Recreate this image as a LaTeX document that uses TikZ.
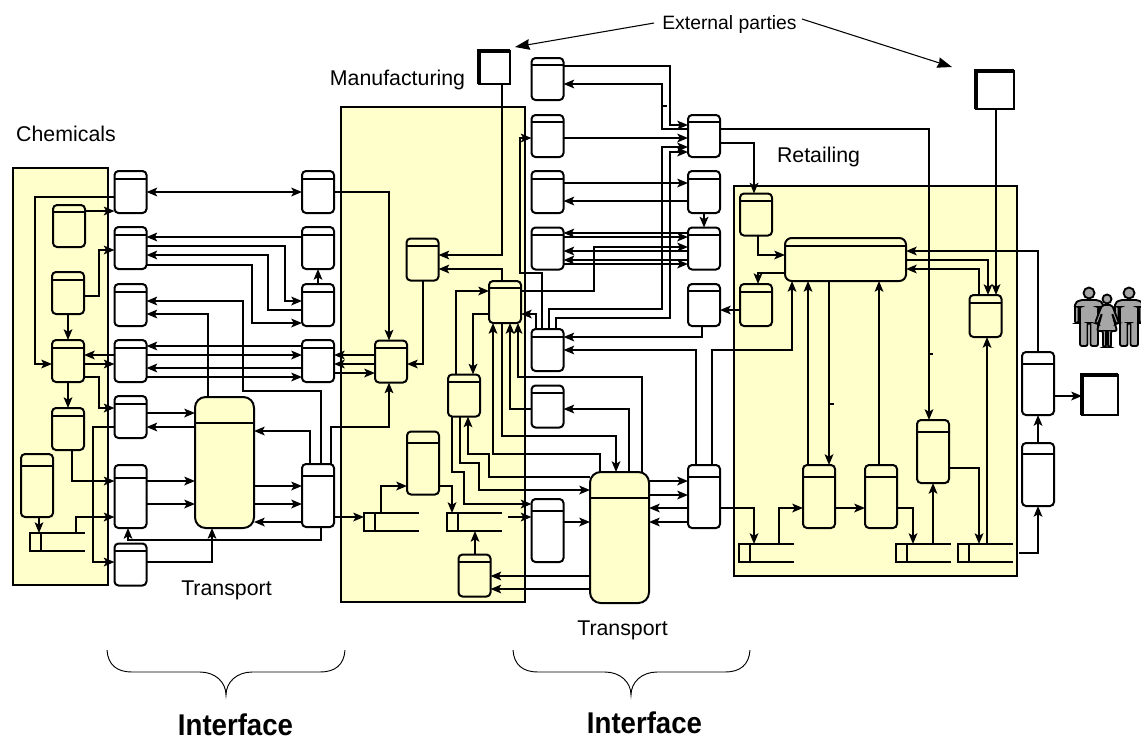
\documentclass[tikz,border=0pt]{standalone}
\usepackage{fontspec}
\setmainfont{Liberation Sans}
\usetikzlibrary{arrows.meta,calc}

\definecolor{areayellow}{HTML}{FFFFCC}
\definecolor{persongray}{HTML}{A6A6A6}

\tikzset{
  flow/.style={line width=1.4pt},
  area/.style={draw, line width=1.2pt, fill=areayellow, inner sep=0pt, outer sep=0pt},
  procbox/.style={draw, line width=1.5pt, rounded corners=3pt, inner sep=0pt, outer sep=0pt,
    minimum width=24pt, minimum height=31.5pt},
  procwhite/.style={procbox, fill=white},
  procyellow/.style={procbox, fill=areayellow},
  tallbox/.style={minimum height=47.25pt},
  transportbox/.style={procyellow, rounded corners=8pt, minimum width=44.25pt, minimum height=98.25pt},
  widebox/.style={procyellow, rounded corners=5pt, minimum width=90.75pt, minimum height=32.25pt},
  storebox/.style={draw, line width=1.4pt, inner sep=0pt, outer sep=0pt, minimum width=8.25pt, minimum height=13.5pt},
  partybox/.style={draw, fill=white, line width=1.2pt, inner sep=0pt, outer sep=0pt},
  lbl/.style={inner sep=0pt, font=\fontsize{16}{18}\selectfont},
  biglbl/.style={inner sep=0pt, font=\fontsize{22.5}{25}\selectfont\bfseries},
  pointer/.style={line width=.8pt, -{Stealth[length=11pt,width=8pt,inset=1pt]}},
  brace/.style={line width=.7pt, rounded corners=0pt},
  person/.style={draw, fill=persongray, line width=1.4pt, rounded corners=1.5pt},
  manicon/.pic={
    \draw[person] (0,0) circle (5.5);
    \draw[person] (-9,7) -- (9,7) -- (14,10) -- (14,30) -- (10.5,30) -- (10.5,14) -- (9,14) -- (9,53)
      -- (1.5,53) -- (1.5,30) -- (-1.5,30) -- (-1.5,53) -- (-9,53) -- (-9,14) -- (-10.5,14)
      -- (-10.5,30) -- (-14,30) -- (-14,10) -- cycle;
  },
  womanicon/.pic={
    \draw[person] (0,0) circle (4.5);
    \draw[person] (-5,6) -- (5,6) -- (12,24) -- (9,25) -- (5,14) -- (10,32) -- (4,32) -- (4,48) -- (1,48)
      -- (1,32) -- (-1,32) -- (-1,48) -- (-4,48) -- (-4,32) -- (-10,32) -- (-5,14) -- (-9,25) -- (-12,24) -- cycle;
  }
}

% a process box with its header line
\newcommand{\procnode}[4][procwhite]{%
  \node[#1] (#2) at (#3) {};
  \draw[flow] ([xshift=-.7pt]#2.west|-0,#4) -- ([xshift=.7pt]#2.east|-0,#4);
}
% an open data store
\newcommand{\storenode}[2]{%
  \node[storebox] (#1) at (#2) {};
  \draw[flow] (#1.north west) -- ++(55,0);
  \draw[flow] (#1.south west) -- ++(55,0);
  \coordinate (#1end) at ($(#1.east)+(50,0)$);
}

\begin{document}
\begin{tikzpicture}[x=.75pt, y=-.75pt, >={Stealth[length=8pt,width=6.5pt,inset=1.8pt]}]
  \useasboundingbox (0,0) rectangle (1141,740);

  % 1. Yellow areas
  \fill[white] (0,0) rectangle (1141,740);
  \draw[area] (13,168) rectangle (108,585);
  \draw[area] (341,107) rectangle (525,602);
  \draw[area] (734,186) rectangle (1017,576);

  % 2. Texts
  \node[lbl, font=\fontsize{14.5}{17}\selectfont] (extlabel) at (729.5,24) {External parties};
  \node[lbl] (mfglabel) at (397.5,80) {Manufacturing};
  \node[lbl] (chemlabel) at (66,134) {Chemicals};
  \node[lbl] (retlabel) at (818.5,157) {Retailing};
  \node[lbl] (translabela) at (226.5,590) {Transport};
  \node[lbl] (translabelb) at (622.5,630) {Transport};
  \node[biglbl] (ifacea) at (235.5,725) {\scalebox{.92}[1]{Interface}};
  \node[biglbl] (ifaceb) at (644.5,723) {\scalebox{.92}[1]{Interface}};

  % 3. Chemicals boxes
  \procnode[procyellow]{C1}{69,226}{212}
  \procnode[procyellow]{C2}{68,293}{280}
  \procnode[procyellow]{C3}{68,361}{348}
  \procnode[procyellow]{C4}{68,429}{416}
  \procnode[procyellow,tallbox]{C5}{37,485.5}{466}
  \storenode{S1}{35.5,542}

  % 4. First interface boxes
  \procnode{A1}{130.5,192}{179}
  \procnode{A2}{130.5,248}{235}
  \procnode{A3}{130.5,305}{292}
  \procnode{A4}{130.5,361}{348}
  \procnode{A5}{130.5,417}{404}
  \procnode[procwhite,tallbox]{A6}{130.5,496.5}{478}
  \procnode{A7}{130.5,564.5}{551}
  \procnode{B1}{318,192}{179}
  \procnode{B2}{318,248}{235}
  \procnode{B3}{318,305}{292}
  \procnode{B4}{318,361}{348}
  \procnode[procwhite,tallbox]{B5}{318,495.5}{476}
  \procnode[transportbox]{T1}{224.5,462.5}{423}

  % 5. Manufacturing boxes
  \procnode[procyellow]{M1}{422.5,259.5}{246}
  \procnode[procyellow]{M2}{391,361.5}{348}
  \procnode[procyellow]{M3}{505,302}{288}
  \procnode[procyellow]{M4}{464,395.5}{382}
  \procnode[procyellow,tallbox]{M5}{423,463}{443}
  \procnode[procyellow]{M6}{474.5,575.5}{562}
  \storenode{S2}{369.5,522}
  \storenode{S3}{452.5,522}

  % 6. Second interface boxes
  \procnode{D1}{547.5,79}{65}
  \procnode{D2}{547.5,136}{122}
  \procnode{D3}{547.5,192}{179}
  \procnode{D4}{547.5,248.5}{235}
  \procnode{D5}{547.5,350}{337}
  \procnode{D6}{547.5,406.5}{393}
  \procnode[procwhite,tallbox]{D7}{547.5,530.5}{511}
  \procnode{E1}{704,136}{122}
  \procnode{E2}{704,192}{179}
  \procnode{E3}{704,248.5}{235}
  \procnode{E4}{704,305}{291}
  \procnode[procwhite,tallbox]{E5}{704,496.5}{477}
  \procnode[transportbox]{T2}{619.5,537.5}{498}

  % 7. Retailing boxes
  \procnode[procyellow]{R1}{756,214.5}{201}
  \procnode[procyellow]{R2}{756,305}{292}
  \procnode[widebox]{R3}{845.5,259.5}{246}
  \procnode[procyellow]{R4}{985.5,316}{303}
  \procnode[procyellow,tallbox]{R5}{819,496.5}{477}
  \procnode[procyellow,tallbox]{R6}{881,496.5}{477}
  \procnode[procyellow,tallbox]{R7}{933,451.5}{432}
  \storenode{S4}{744.5,553}
  \storenode{S5}{901.5,553}
  \storenode{S6}{963.5,553}
  \procnode[procwhite,tallbox]{F1}{1038,383.5}{364}
  \procnode[procwhite,tallbox]{F2}{1038,474.5}{454}

  % 8. External parties and people
  \node[partybox, minimum width=23.25pt, minimum height=24.75pt] (X1) at (494.5,67.5) {};
  \node[partybox, minimum width=28.5pt, minimum height=28.5pt] (X2) at (995,90) {};
  \node[partybox, minimum width=27pt, minimum height=30pt] (X3) at (1100,395) {};
  \draw[line width=2.4pt] (X1.south west) |- (X1.north east);
  \draw[line width=2.4pt] (X2.south west) |- (X2.north east);
  \draw[line width=2.4pt] (X3.south west) |- (X3.north east);
  \coordinate (ptrleft) at (515,47);
  \coordinate (ptrright) at (952,67);
  \draw[pointer] ($(extlabel.west)+(-8,-1)$) -- (ptrleft);
  \draw[pointer] ($(extlabel.east)+(5,-5)$) -- (ptrright);
  \pic at (1089,293) {manicon};
  \pic at (1129,293) {manicon};
  \pic at (1107,299) {womanicon};

  % 9. Connectors around the Chemicals area
  \begin{scope}[flow]
    \draw[<->] (A1.east|-0,192) -- (B1.west|-0,192);
    \draw[->] (A1.west|-0,197) -- (35,197) |- (C3.west|-0,364);
    \draw[->] (C1.east|-0,211) -- (A1.west|-0,211);
    \draw[->] (C2.east|-0,296) -- (99,296) |- (A2.west|-0,250);
    \draw[->] (C2.south) -- (C3.north);
    \draw[->] (C3.east|-0,364) -- (A4.west|-0,364);
    \draw[<-] (C3.east|-0,355) -- (A4.west|-0,355);
    \draw[->] (C3.east|-0,377) -- (99,377) |- (A5.west|-0,408);
    \draw[->] (C3.south) -- (C4.north);
    \draw[->] (C4.south-|72,0) |- (A6.west|-0,481);
    \draw[->] (C5.south-|39,0) -- (S1.north-|39,0);
    \draw[->] (S1.north-|76,0) |- (A6.west|-0,517);
    \draw[->] (A5.west|-0,427) -- (93,427) |- (A7.west|-0,562);

    % 10. Connectors of the first interface
    \draw[<-] (A2.east|-0,237) -- (B2.west|-0,237);
    \draw[->] (A2.east|-0,246) -- (285,246) |- (B3.west|-0,301);
    \draw[<-] (A2.east|-0,255) -- (268,255) |- (B3.west|-0,310);
    \draw[->] (A2.east|-0,265) -- (252,265) |- (B3.west|-0,323);
    \draw[->] (B3.north) -- (B2.south);
    \draw[<-] (A4.east|-0,346) -- (B4.west|-0,346);
    \draw[->] (A4.east|-0,355) -- (B4.west|-0,355);
    \draw[<-] (A4.east|-0,368) -- (B4.west|-0,368);
    \draw[->] (A4.east|-0,377) -- (B4.west|-0,377);
    \draw[->] (A5.east|-0,413) -- (T1.west|-0,413);
    \draw[<-] (A5.east|-0,427) -- (T1.west|-0,427);
    \draw[->] (A6.east|-0,481) -- (T1.west|-0,481);
    \draw[->] (A6.east|-0,504) -- (T1.west|-0,504);
    \draw[->] (A7.east|-0,562) -| (T1.south-|212,0);
    \draw[->] (B5.south-|321,0) -- (321,540) -| (A6.south-|128,0);
    \draw[->] (T1.north-|208,0) |- (A3.east|-0,314);
    \draw[<-] (A3.east|-0,301) -- (243,301) -- (243,391) -- (321,391) -- (B5.north-|321,0);
    \draw[->] (B5.north-|310,0) |- (T1.east|-0,431);
    \draw[->] (T1.east|-0,486) -- (B5.west|-0,486);
    \draw[->] (T1.east|-0,504) -- (B5.west|-0,504);
    \draw[<-] (T1.east|-0,522) -- (B5.west|-0,522);
    \draw[->] (B5.north-|331,0) |- (389,427) -- (M2.south-|389,0);
    \draw[->] (B1.east|-0,192) -| (M2.north-|389,0);
    \draw[->] (B5.east|-0,517) -- (S2.west|-0,517);

    % 11. Connectors inside Manufacturing
    \draw[<-] (B4.east|-0,355) -- (M2.west|-0,355);
    \draw[<-] (B4.east|-0,364) -- (M2.west|-0,364);
    \draw[->] (B4.east|-0,373) -- (M2.west|-0,373);
    \draw[->] (M1.south-|423,0) |- (M2.east|-0,364);
    \draw[->] (X1.south-|502,0) |- (M1.east|-0,255);
    \draw[->] (M3.north-|502,0) |- (M1.east|-0,269);
    \draw[->] (M4.north-|456,0) |- (M3.west|-0,291);
    \draw[->] (M3.west|-0,314) -| (M4.north-|473,0);
    \draw[->] (S2.north-|381,0) |- (M5.west|-0,486);
    \draw[->] (M5.east|-0,486) -| (S3.north-|452,0);
    \draw[->] (M6.north-|475,0) -- (S3.south-|475,0);
    \draw[->] (S3end|-0,517) -- (D7.west|-0,517);
    \draw[<-] (M6.east|-0,576) -- (T2.west|-0,576);
    \draw[<-] (M6.east|-0,589) -- (T2.west|-0,589);

    % 12. Connectors between Manufacturing and the second interface
    \draw[->] (M3.east|-0,291) -- (594,291) |- (E3.west|-0,247);
    \draw[->] (D5.north-|542,0) -- (542,273) -- (520,273) |- (D2.west|-0,138);
    \draw[->] (D5.north-|536,0) |- (M3.east|-0,314);
    \draw[->] (D5.north-|549,0) |- (662,309) |- (E1.west|-0,147);
    \draw[->] (D5.north-|556,0) |- (670,318) |- (E1.west|-0,152);
    \draw[->] (D1.east|-0,66) -| (670,100) |- (E1.west|-0,125);
    \draw[<-] (D1.east|-0,84) -| (662,100) |- (E1.west|-0,129);
    \draw[->] (D2.east|-0,138) -- (E1.west|-0,138);
    \draw[->] (D3.east|-0,183) -- (E2.west|-0,183);
    \draw[<-] (D3.east|-0,201) -- (E2.west|-0,201);
    \draw[->] (E2.south) -- (E3.north);
    \draw[<-] (D4.east|-0,233) -- (E3.west|-0,233);
    \draw[->] (D4.east|-0,237) -- (E3.west|-0,237);
    \draw[<-] (D4.east|-0,251) -- (E3.west|-0,251);
    \draw[<-] (D4.east|-0,260) -- (E3.west|-0,260);
    \draw[->] (D4.east|-0,264) -- (E3.west|-0,264);
    \draw[->] (E4.south-|702,0) |- (D5.east|-0,337);
    \draw[->] (E5.north-|696,0) |- (D5.east|-0,350);

    % 13. Connectors around the second Transport
    \draw[->] (T2.north-|629,0) |- (D6.east|-0,409);
    \draw[->] (T2.north-|642,0) -- (642,377) -- (518,377) -- (M3.south-|518,0);
    \draw[->] (D6.west|-0,409) -| (M3.south-|510,0);
    \draw[->] (M3.south-|502,0) |- (616,436) -- (T2.north-|616,0);
    \draw[->] (T2.north-|600,0) |- (493,454) -- (M3.south-|493,0);
    \draw[->] (T2.west|-0,477) -- (489,477) -- (489,454) -- (468,454) -- (M4.south-|468,0);
    \draw[->] (M4.south-|460,0) |- (479,463) |- (T2.west|-0,490);
    \draw[->] (M4.south-|452,0) |- (464,472) |- (D7.west|-0,504);
    \draw[->] (D7.east|-0,522) -- (T2.west|-0,522);
    \draw[->] (T2.east|-0,481) -- (E5.west|-0,481);
    \draw[->] (T2.east|-0,495) -- (E5.west|-0,495);
    \draw[<-] (T2.east|-0,508) -- (E5.west|-0,508);
    \draw[<-] (T2.east|-0,522) -- (E5.west|-0,522);

    % 14. Connectors of Retailing
    \draw[->] (E1.east|-0,129) -| (R7.north-|929,0);
    \draw[->] (E1.east|-0,143) -| (R1.north-|754,0);
    \draw[->] (R1.south-|758,0) |- (R3.west|-0,255);
    \draw[->] (R3.west|-0,273) -| (R2.north-|758,0);
    \draw[->] (R2.west|-0,310) -- (E4.east|-0,310);
    \draw[->] (E5.north-|712,0) |- (792,350) -- (R3.south-|792,0);
    \draw[->] (E5.east|-0,508) -| (S4.north-|754,0);
    \draw[->] (S4.north-|779,0) |- (R5.west|-0,508);
    \draw[->] (R5.east|-0,508) -- (R6.west|-0,508);
    \draw[->] (R6.east|-0,508) -| (S5.north-|913,0);
    \draw[->] (S5.north-|933,0) -- (R7.south-|933,0);
    \draw[->] (R7.east|-0,468) -| (S6.north-|979,0);
    \draw[->] (S6.north-|987,0) -- (R4.south-|987,0);
    \draw[->] (S6end) -| (F2.south);
    \draw[->] (F2.north) -- (F1.south);
    \draw[->] (F1.north) |- (R3.east|-0,251);
    \draw[->] (F1.east|-0,396) -- (X3.west|-0,396);
    \draw[->] (R3.east|-0,260) -| (R4.north-|988,0);
    \draw[->] (R4.north-|979,0) |- (R3.east|-0,269);
    \draw[->] (X2.south-|996,0) -- (R4.north-|996,0);
    \draw[->] (R5.north-|808,0) -- (R3.south-|808,0);
    \draw[->] (R3.south-|829,0) -- (R5.north-|829,0);
    \draw[->] (R6.north-|879,0) -- (R3.south-|879,0);

    % 15. Small ticks on the lines
    \draw (661,106) -- (667,106);
    \draw (929,354) -- (933,354);
    \draw (829,404) -- (834,404);
  \end{scope}

  % 16. Braces under the interfaces
  \coordinate (bracea) at (226,695);
  \coordinate (braceb) at (631,695);
  \draw[brace] (107,650) .. controls (108,665) and (117,672) .. (132,672) -- (200,672)
    .. controls (215,672) and (226,682) .. (bracea)
    .. controls (226,682) and (237,672) .. (252,672) -- (320,672)
    .. controls (335,672) and (344,665) .. (345,650);
  \draw[brace] (513,650) .. controls (514,665) and (523,672) .. (538,672) -- (605,672)
    .. controls (620,672) and (631,682) .. (braceb)
    .. controls (631,682) and (642,672) .. (657,672) -- (725,672)
    .. controls (740,672) and (749,665) .. (750,650);
\end{tikzpicture}
\end{document}
